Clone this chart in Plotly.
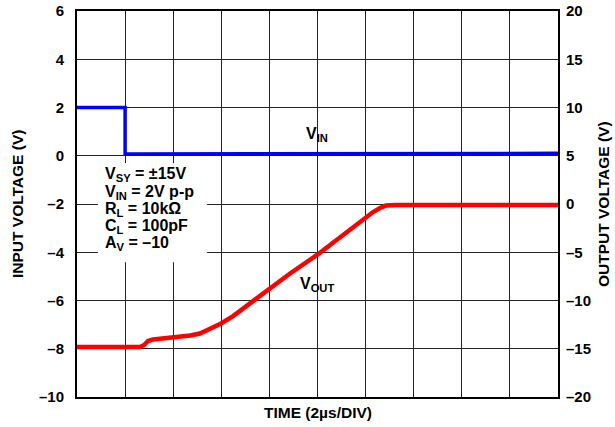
import plotly.graph_objects as go

# time in microseconds (2 us/div, 10 divisions)
vin_t = [0, 2.0, 2.0, 8.0, 14.0, 20.0]
vin_v = [2.0, 2.0, 0.07, 0.09, 0.1, 0.1]

vout_t = [0, 2.62, 2.79, 2.95, 3.16, 3.99, 4.70, 5.11, 5.53, 5.99, 6.49, 7.32, 7.73,
          8.86, 9.98, 10.94, 11.89, 12.31, 12.60, 12.85, 13.22, 20.0]
vout_v = [-14.82, -14.82, -14.61, -14.20, -14.04, -13.83, -13.63, -13.42, -12.95, -12.38,
          -11.61, -10.05, -9.28, -7.20, -5.28, -3.42, -1.55, -0.83, -0.41, -0.16, -0.10, -0.10]

left_ticks = [-10, -8, -6, -4, -2, 0, 2, 4, 6]
left_text = ["–10", "–8", "–6", "–4", "–2", "0", "2", "4", "6"]
right_ticks = [-20, -15, -10, -5, 0, 5, 10, 15, 20]
right_text = ["–20", "–15", "–10", "–5", "0", "5", "10", "15", "20"]

box_lines = ["V<sub>SY</sub> = ±15V", "V<sub>IN</sub> = 2V p-p", "R<sub>L</sub> = 10kΩ",
             "C<sub>L</sub> = 100pF", "A<sub>V</sub> = –10"]
box_y = [-0.79, -1.51, -2.21, -2.92, -3.62]

FONT = "Liberation Sans"
W, H = 615, 427
ML, MR, MT, MB = 77, 57, 11, 30

fig = go.Figure()
fig.add_trace(go.Scatter(x=vin_t, y=vin_v, mode="lines", line=dict(color="#0000FF", width=3.5),
                         showlegend=False, yaxis="y", hoverinfo="skip"))
fig.add_trace(go.Scatter(x=vout_t, y=vout_v, mode="lines", line=dict(color="#FF0000", width=4.5),
                         showlegend=False, yaxis="y2", hoverinfo="skip"))

fig.update_layout(
    width=W, height=H,
    margin=dict(l=ML, r=MR, t=MT, b=MB, pad=0),
    paper_bgcolor="white", plot_bgcolor="white",
    font=dict(family=FONT, size=15, color="black"),
    xaxis=dict(range=[0, 20], dtick=2, tick0=0, showticklabels=False, ticks="",
               automargin=False,
               showgrid=True, gridcolor="#222", gridwidth=1.3, zeroline=False,
               showline=True, linecolor="black", linewidth=2, mirror=True),
    yaxis=dict(range=[-10, 6], tickvals=left_ticks, ticktext=left_text, ticks="",
               ticklabelstandoff=8, automargin=False,
               showgrid=True, gridcolor="#222", gridwidth=1.3, zeroline=False,
               showline=True, linecolor="black", linewidth=2, mirror=True,
               tickfont=dict(family=FONT, size=15, weight="bold")),
    yaxis2=dict(range=[-20, 20], tickvals=right_ticks, ticktext=right_text, ticks="",
                overlaying="y", side="right", showgrid=False, zeroline=False,
                ticklabelstandoff=7, automargin=False,
                tickfont=dict(family=FONT, size=15, weight="bold")),
)

fig.add_shape(type="rect", xref="x", yref="y", x0=0.87, x1=5.4, y0=-4.41, y1=-0.3,
              fillcolor="white", line=dict(width=0), layer="above")

for txt, yy in zip(box_lines, box_y):
    fig.add_annotation(x=1.08, y=yy, xref="x", yref="y", text="<b>" + txt + "</b>",
                       showarrow=False, xanchor="left", yanchor="middle",
                       font=dict(family=FONT, size=16))

fig.add_annotation(x=9.98, y=0.9, xref="x", yref="y", text="<b>V<sub>IN</sub></b>",
                   showarrow=False, xanchor="center", yanchor="middle", font=dict(family=FONT, size=16))
fig.add_annotation(x=9.98, y=-8.3, xref="x", yref="y2", text="<b>V<sub>OUT</sub></b>",
                   showarrow=False, xanchor="center", yanchor="middle", font=dict(family=FONT, size=16))

plot_w, plot_h = W - ML - MR, H - MT - MB
fig.add_annotation(x=0.5, y=(-16) / plot_h, xref="paper", yref="paper", text="<b>TIME (2µs/DIV)</b>",
                   showarrow=False, xanchor="center", yanchor="middle", font=dict(family=FONT, size=15.5))
fig.add_annotation(x=(17 - ML) / plot_w, y=0.5, xref="paper", yref="paper", text="<b>INPUT VOLTAGE (V)</b>",
                   showarrow=False, textangle=-90, xanchor="center", yanchor="middle", font=dict(family=FONT, size=15.5))
fig.add_annotation(x=(603 - ML) / plot_w, y=0.5, xref="paper", yref="paper", text="<b>OUTPUT VOLTAGE (V)</b>",
                   showarrow=False, textangle=-90, xanchor="center", yanchor="middle", font=dict(family=FONT, size=15.5))

# remove the browser's default 8px body margin so the chart fills the window exactly
fig.write_html("out.html", config={"displayModeBar": False},
               post_script="document.body.style.margin='0';document.body.style.overflow='hidden';")
